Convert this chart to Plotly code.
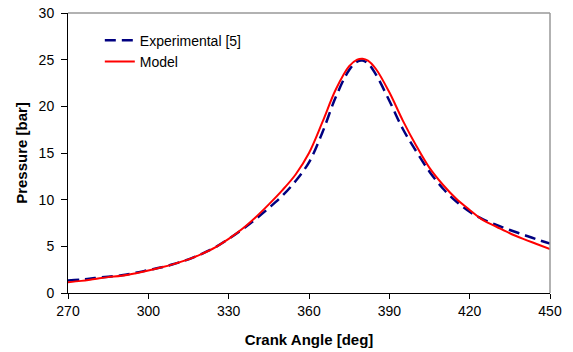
import plotly.graph_objects as go

exp_angle = [270, 275, 280, 285, 290, 295, 300, 305, 310, 315, 320, 325, 330, 335, 340, 345,
             350, 355, 360, 365, 370, 375, 378, 380, 382, 385, 390, 395, 400, 405, 410, 415,
             420, 425, 430, 435, 440, 445, 450]
exp_pressure = [1.35, 1.45, 1.6, 1.75, 1.9, 2.15, 2.45, 2.75, 3.15, 3.6, 4.2, 4.9, 5.8, 6.8, 7.9, 9.1,
                10.4, 12.0, 14.0, 17.2, 21.0, 23.9, 24.8, 24.9, 24.6, 23.4, 20.6, 17.6, 15.2, 13.0, 11.2, 9.8,
                8.7, 7.9, 7.3, 6.75, 6.25, 5.75, 5.3]

model_angle = exp_angle
model_pressure = [1.15, 1.3, 1.5, 1.7, 1.85, 2.1, 2.4, 2.75, 3.15, 3.6, 4.2, 4.9, 5.8, 6.85, 8.1, 9.5,
                  11.0, 12.7, 15.0, 18.3, 21.8, 24.3, 25.0, 25.1, 24.9, 24.0, 21.5, 18.5, 15.8, 13.4, 11.6, 10.1,
                  8.9, 7.8, 7.1, 6.4, 5.8, 5.25, 4.7]

x_ticks = [270, 300, 330, 360, 390, 420, 450]
y_ticks = [0, 5, 10, 15, 20, 25, 30]

FONT = "Liberation Sans, Arial, sans-serif"

fig = go.Figure()
fig.add_trace(go.Scatter(x=exp_angle, y=exp_pressure, mode="lines", name="Experimental [5]",
                         line=dict(color="#000080", width=2.5, dash="11px,6px"), line_shape="spline"))
fig.add_trace(go.Scatter(x=model_angle, y=model_pressure, mode="lines", name="Model",
                         line=dict(color="#FF0000", width=2), line_shape="spline"))

fig.update_layout(
    width=573, height=352,
    margin=dict(l=68, r=23, t=13, b=59),
    paper_bgcolor="white", plot_bgcolor="white",
    font=dict(family=FONT, size=14, color="black"),
    showlegend=True,
    legend=dict(x=0.066, y=0.958, xanchor="left", yanchor="top", bgcolor="rgba(0,0,0,0)",
                font=dict(size=14), tracegroupgap=0, itemwidth=30),
    xaxis=dict(range=[270, 450], tickvals=x_ticks, ticks="outside", ticklen=5, tickcolor="black",
               showline=True, linecolor="black", linewidth=1, showgrid=False, zeroline=False,
               automargin=False,
               title=dict(text="<b>Crank Angle [deg]</b>", font=dict(size=15), standoff=16)),
    yaxis=dict(range=[0, 30], tickvals=y_ticks, ticks="outside", ticklen=6, tickcolor="black",
               showline=True, linecolor="black", linewidth=1, showgrid=False, zeroline=False,
               automargin=False, ticklabelstandoff=4,
               title=dict(text="<b>Pressure [bar]</b>", font=dict(size=15), standoff=7)),
    shapes=[
        dict(type="line", xref="paper", yref="paper", x0=0, x1=1, y0=1, y1=1,
             line=dict(color="#999999", width=1.5)),
        dict(type="line", xref="paper", yref="paper", x0=1, x1=1, y0=0, y1=1,
             line=dict(color="#999999", width=1.5)),
    ],
)

fig.write_html("out.html", config={"displayModeBar": False},
               post_script="document.body.style.margin='0';document.body.style.overflow='hidden';")
